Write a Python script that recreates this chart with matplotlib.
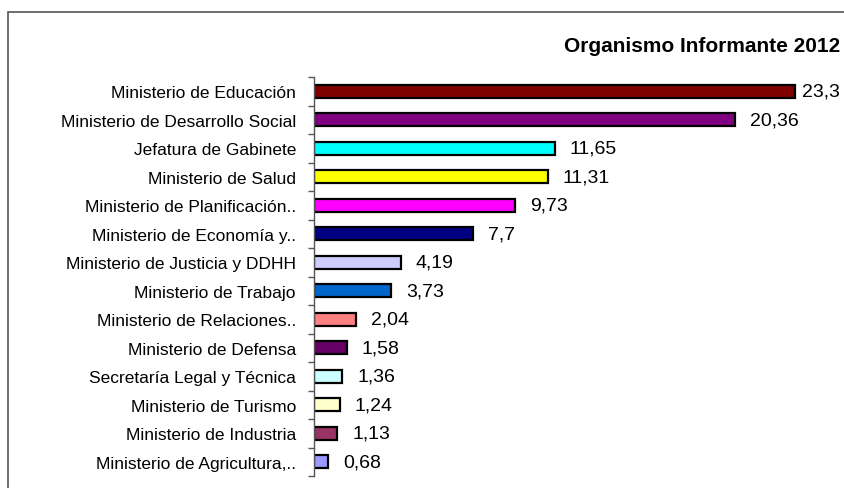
import numpy as np
import matplotlib
matplotlib.use("Agg")
import matplotlib.pyplot as plt
from matplotlib.patches import Rectangle

plt.rcParams['font.family'] = ['Liberation Sans', 'DejaVu Sans']

# data, top to bottom
organismos = [
    "Ministerio de Educación",
    "Ministerio de Desarrollo Social",
    "Jefatura de Gabinete",
    "Ministerio de Salud",
    "Ministerio de Planificación..",
    "Ministerio de Economía y..",
    "Ministerio de Justicia y DDHH",
    "Ministerio de Trabajo",
    "Ministerio de Relaciones..",
    "Ministerio de Defensa",
    "Secretaría Legal y Técnica",
    "Ministerio de Turismo",
    "Ministerio de Industria",
    "Ministerio de Agricultura,..",
]
valores = [23.3, 20.36, 11.65, 11.31, 9.73, 7.7, 4.19, 3.73, 2.04, 1.58, 1.36, 1.24, 1.13, 0.68]
etiquetas = ["23,3", "20,36", "11,65", "11,31", "9,73", "7,7", "4,19", "3,73",
             "2,04", "1,58", "1,36", "1,24", "1,13", "0,68"]
colores = ["#800000", "#800080", "#00FFFF", "#FFFF00", "#FF00FF", "#000080", "#CCCCFF",
           "#0066CC", "#FF8080", "#660066", "#CCFFFF", "#FFFFCC", "#993366", "#9999FF"]

fig = plt.figure(figsize=(8.44, 4.89), dpi=100)
ax = fig.add_axes([314 / 844, 1 - 477 / 489, 1 - 314 / 844, (477 - 78) / 489])

# outer chart frame (right/bottom edges fall off the image)
fig.patches.append(Rectangle((8 / 844, -0.1), 1.2, 1 - 13 / 489 + 0.1,
                             transform=fig.transFigure, fill=False,
                             edgecolor="#555555", lw=1.2, clip_on=False))

y = np.arange(len(valores))
ax.barh(y, valores, height=0.45, color=colores, edgecolor="black", linewidth=1.6)

ax.set_xlim(0, 25.65)
ax.set_ylim(len(valores) - 0.5, -0.5)

for i, (v, t) in enumerate(zip(valores, etiquetas)):
    off = 5 if v == max(valores) else 11
    ax.annotate(t, (v, i), xytext=(off, 0), textcoords="offset points",
                va="center", ha="left", fontsize=14, annotation_clip=False)

for s in ["top", "right", "bottom"]:
    ax.spines[s].set_visible(False)
ax.spines["left"].set_color("#555555")
ax.spines["left"].set_linewidth(1.0)
ax.set_xticks([])

ax.set_yticks(y)
ax.set_yticklabels(organismos, fontsize=12.5)
ax.tick_params(axis="y", which="major", length=0, pad=13)
ax.set_yticks(np.arange(len(valores) + 1) - 0.5, minor=True)
ax.tick_params(axis="y", which="minor", length=4, width=1.0, color="#555555", direction="out")

fig.text(840 / 844, 1 - 46 / 489, "Organismo Informante 2012", ha="right", va="center",
         fontsize=15, fontweight="bold")

fig.savefig("out.png", dpi=100)
